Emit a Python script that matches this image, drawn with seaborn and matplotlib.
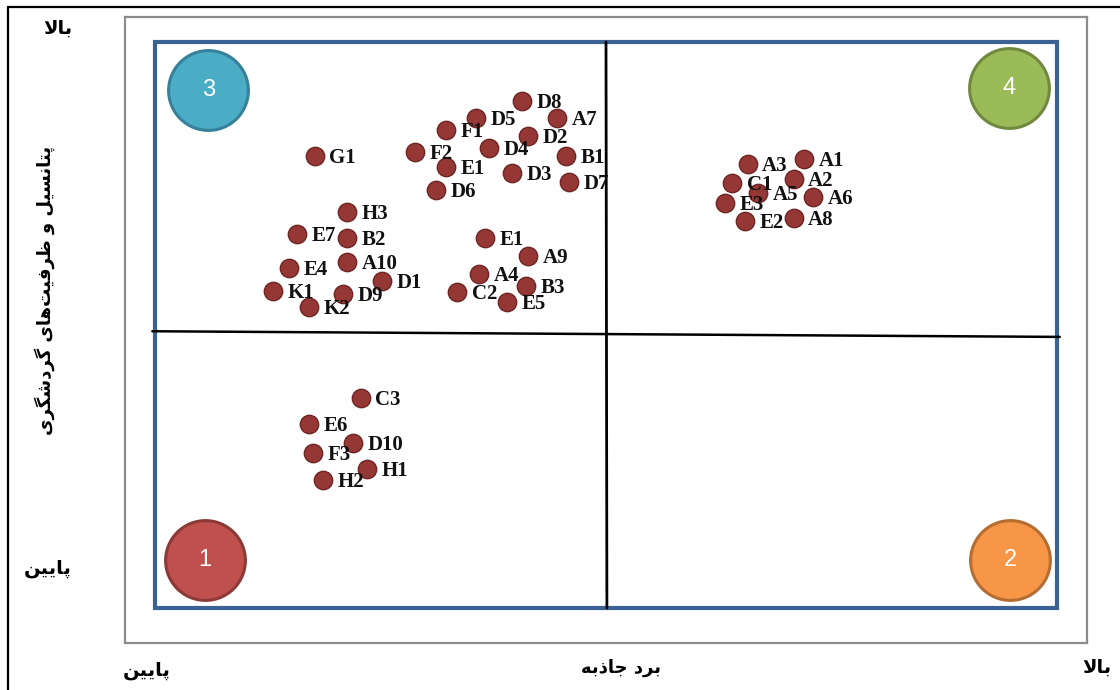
import matplotlib
matplotlib.use("Agg")
import matplotlib.pyplot as plt
import seaborn as sns
import pandas as pd
from matplotlib.lines import Line2D
from matplotlib.patches import Rectangle

# ---------------- data ----------------
labels = ["G1", "H3", "E7", "B2", "A10", "E4", "D1", "K1", "D9", "K2",
          "D8", "D5", "A7", "F1", "D2", "F2", "D4", "E1", "B1", "D3", "D7", "D6",
          "E1", "A9", "A4", "B3", "C2", "E5",
          "A1", "A3", "A2", "C1", "A5", "A6", "E3", "E2", "A8",
          "C3", "E6", "D10", "F3", "H1", "H2"]
attraction = [1.77, 2.13, 1.57, 2.13, 2.13, 1.49, 2.52, 1.31, 2.08, 1.71,
              4.07, 3.56, 4.46, 3.23, 4.14, 2.88, 3.70, 3.23, 4.56, 3.96, 4.59, 3.12,
              3.66, 4.14, 3.59, 4.11, 3.35, 3.90,
              7.20, 6.57, 7.08, 6.40, 6.69, 7.30, 6.32, 6.54, 7.08,
              2.28, 1.71, 2.20, 1.75, 2.35, 1.86]
potential = [7.99, 7.00, 6.61, 6.54, 6.11, 6.01, 5.78, 5.60, 5.55, 5.32,
             8.96, 8.66, 8.66, 8.45, 8.34, 8.06, 8.13, 7.79, 7.99, 7.69, 7.53, 7.39,
             6.54, 6.22, 5.90, 5.69, 5.58, 5.41,
             7.93, 7.85, 7.58, 7.51, 7.33, 7.26, 7.16, 6.84, 6.89,
             3.71, 3.25, 2.92, 2.74, 2.46, 2.26]

quadrant_numbers = ["1", "2", "3", "4"]
quadrant_x = [0.55, 9.48, 0.59, 9.47]
quadrant_y = [0.85, 0.85, 9.15, 9.19]
quadrant_fill = ["#C0504D", "#F79646", "#4BACC6", "#9BBB59"]
quadrant_edge = ["#8C3A38", "#B66D32", "#37809A", "#71893F"]

# divider lines (score scale of the matrix)
vline_x = [5.01, 5.00]
vline_y = [0.0, 10.0]
hline_x = [-0.03, 10.03]
hline_y = [4.89, 4.79]

txt_high = "بالا"
txt_low = "پایین"
txt_xlabel = "برد جاذبه"
txt_ylabel = "پتانسیل و ظرفیت\u200cهای گردشگری"

# ---------------- minimal Persian shaping (visual order) ----------------
FORMS = {
    "ا": ("\uFE8D", "\uFE8E", None, None),
    "ب": ("\uFE8F", "\uFE90", "\uFE91", "\uFE92"),
    "پ": ("\uFB56", "\uFB57", "\uFB58", "\uFB59"),
    "ت": ("\uFE95", "\uFE96", "\uFE97", "\uFE98"),
    "ج": ("\uFE9D", "\uFE9E", "\uFE9F", "\uFEA0"),
    "د": ("\uFEA9", "\uFEAA", None, None),
    "ذ": ("\uFEAB", "\uFEAC", None, None),
    "ر": ("\uFEAD", "\uFEAE", None, None),
    "س": ("\uFEB1", "\uFEB2", "\uFEB3", "\uFEB4"),
    "ش": ("\uFEB5", "\uFEB6", "\uFEB7", "\uFEB8"),
    "ظ": ("\uFEC5", "\uFEC6", "\uFEC7", "\uFEC8"),
    "ف": ("\uFED1", "\uFED2", "\uFED3", "\uFED4"),
    "گ": ("\uFB92", "\uFB93", "\uFB94", "\uFB95"),
    "ل": ("\uFEDD", "\uFEDE", "\uFEDF", "\uFEE0"),
    "ن": ("\uFEE5", "\uFEE6", "\uFEE7", "\uFEE8"),
    "ه": ("\uFEE9", "\uFEEA", "\uFEEB", "\uFEEC"),
    "و": ("\uFEED", "\uFEEE", None, None),
    "ی": ("\uFBFC", "\uFBFD", "\uFBFE", "\uFBFF"),
}


def dual(c):
    return c in FORMS and FORMS[c][2] is not None


def joins(c):
    return c in FORMS


def shape(s):
    out = []
    i = 0
    n = len(s)
    while i < n:
        c = s[i]
        prev = s[i - 1] if i > 0 else ""
        cp = joins(c) and dual(prev)
        if c == "ل" and i + 1 < n and s[i + 1] == "ا":
            out.append("\uFEFC" if cp else "\uFEFB")
            i += 2
            continue
        if c not in FORMS:
            if c != "\u200c":
                out.append(c)
            i += 1
            continue
        nxt = s[i + 1] if i + 1 < n else ""
        cn = dual(c) and joins(nxt)
        f = FORMS[c]
        if cp and cn:
            out.append(f[3])
        elif cp:
            out.append(f[1])
        elif cn:
            out.append(f[2])
        else:
            out.append(f[0])
        i += 1
    return "".join(reversed(out))


# ---------------- figure ----------------
sns.set_style("white")
plt.rcParams["font.family"] = ["DejaVu Sans", "Noto Sans"]

W, H = 1120, 690
fig = plt.figure(figsize=(W / 100, H / 100), dpi=100)
ax = fig.add_axes([125 / W, (H - 643) / H, (1087 - 125) / W, (643 - 17) / H])
ax.set_xlim(-0.333, 10.333)
ax.set_ylim(-0.618, 10.442)
ax.set_xticks([])
ax.set_yticks([])
for sp in ax.spines.values():
    sp.set_color("#8C8C8C")
    sp.set_linewidth(1.6)

# blue frame
ax.add_patch(Rectangle((0, 0), 10, 10, fill=False, edgecolor="#3B6292",
                       linewidth=3.0, zorder=2))
# dividers
ax.plot(vline_x, vline_y, color="black", linewidth=2.0, zorder=2)
ax.plot(hline_x, hline_y, color="black", linewidth=1.8, zorder=2)

df = pd.DataFrame({"label": labels, "x": attraction, "y": potential})
sns.scatterplot(data=df, x="x", y="y", ax=ax, s=175, color="#953735",
                edgecolor="#6E2523", linewidth=1.0, zorder=4, legend=False)
for lab, x, y in zip(labels, attraction, potential):
    ax.annotate(lab, (x, y), xytext=(10.5, -1.5), textcoords="offset points",
                ha="left", va="center", fontsize=15, fontweight="bold",
                family="Liberation Serif", color="#111111", zorder=5)

for i in range(4):
    sns.scatterplot(x=[quadrant_x[i]], y=[quadrant_y[i]], ax=ax, s=3300,
                    color=quadrant_fill[i], edgecolor=quadrant_edge[i],
                    linewidth=2.2, zorder=3, legend=False)
    ax.text(quadrant_x[i], quadrant_y[i], quadrant_numbers[i], color="white",
            fontsize=17, ha="center", va="center", family="Liberation Sans",
            zorder=4)
ax.set_xlabel("")
ax.set_ylabel("")

# outer frame lines
fig.add_artist(Line2D([8 / W, 8 / W], [0, 1 - 7 / H], color="black", lw=1.6))
fig.add_artist(Line2D([8 / W, 1], [1 - 7 / H, 1 - 7 / H], color="black", lw=1.6))


def ftext(px, py, s, **kw):
    fig.text(px / W, 1 - py / H, shape(s), ha="center", va="center",
             fontweight="bold", color="black",
             family=["DejaVu Sans", "Noto Sans"], **kw)


ftext(58, 28, txt_high, fontsize=14)
ftext(48, 569, txt_low, fontsize=14)
ftext(45, 290, txt_ylabel, fontsize=13, rotation=90)
ftext(147, 670, txt_low, fontsize=14)
ftext(621, 668, txt_xlabel, fontsize=13)
ftext(1097, 667, txt_high, fontsize=14)

fig.savefig("out.png", dpi=100)
